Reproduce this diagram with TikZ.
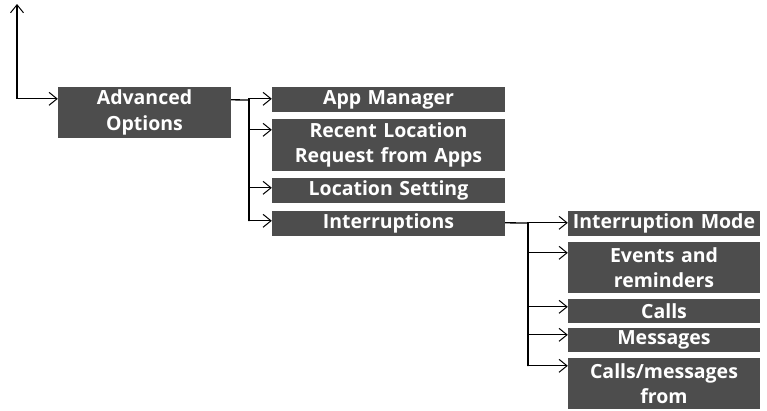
\documentclass[tikz,border=0pt]{standalone}
\usepackage{fontspec}
\setmainfont{Open Sans}
\usetikzlibrary{arrows.meta,calc}
\begin{document}
\begin{tikzpicture}[x=1pt,y=-1pt,
  menubox/.style={fill=boxgray,text=white,inner sep=0pt,align=center,
    font=\bfseries\fontsize{19.5}{25.5}\selectfont},
  conn/.style={line width=1.3pt,-{Straight Barb[length=8pt,width=13pt,line width=1pt]}},
  plain/.style={line width=1.3pt}]
\definecolor{boxgray}{HTML}{4D4D4D}
\useasboundingbox (0,0) rectangle (767,410);
% boxes
\node[menubox,minimum width=173pt,minimum height=51pt,text width=173pt] (adv) at (144.5,112.5) {Advanced\\Options};
\node[menubox,minimum width=233pt,minimum height=25pt,text width=233pt] (am) at (388.5,99.5) {App Manager};
\node[menubox,minimum width=233pt,minimum height=52pt,text width=233pt] (rl) at (388.5,145) {Recent Location\\Request from Apps};
\node[menubox,minimum width=233pt,minimum height=25pt,text width=233pt] (ls) at (388.5,190.5) {Location Setting};
\node[menubox,minimum width=233pt,minimum height=25pt,text width=233pt] (intr) at (388.5,223.5) {Interruptions};
\node[menubox,minimum width=192pt,minimum height=25pt,text width=192pt] (im) at (664,223.5) {Interruption Mode};
\node[menubox,minimum width=192pt,minimum height=51pt,text width=192pt] (ev) at (664,267.5) {Events and\\reminders};
\node[menubox,minimum width=192pt,minimum height=24pt,text width=192pt] (ca) at (664,311) {Calls};
\node[menubox,minimum width=192pt,minimum height=24pt,text width=192pt] (me) at (664,340) {Messages};
\node[menubox,minimum width=192pt,minimum height=51pt,text width=192pt] (cm) at (664,383.5) {Calls/messages\\from};
% connector points
\coordinate (top) at (17,4);
\coordinate (advin) at ($(adv.north west)+(0,12)$);
\coordinate (advout) at ($(adv.north east)+(0,13)$);
\coordinate (t1) at (249,100);
\coordinate (t1b) at (249,221);
\coordinate (introut) at ($(intr.north east)+(0,12)$);
\coordinate (t2) at (528,223);
\coordinate (t2b) at (528,366);
% connectors
\draw[plain] (advout) -- (t1) -- (t1b);
\draw[plain] (introut) -- (t2) -- (t2b);
\draw[line width=1.3pt,{Straight Barb[length=8pt,width=13pt,line width=1pt]}-{Straight Barb[length=8pt,width=13pt,line width=1pt]}] (top) |- (advin);
\draw[conn] (t1) |- ($(am.north west)+(0,12)$);
\draw[conn] (t1) |- ($(rl.north west)+(0,11)$);
\draw[conn] (t1) |- ($(ls.north west)+(0,10)$);
\draw[conn] (t1) |- ($(intr.north west)+(0,10)$);
\draw[conn] (t2) |- ($(im.north west)+(0,12)$);
\draw[conn] (t2) |- ($(ev.north west)+(0,11)$);
\draw[conn] (t2) |- ($(ca.north west)+(0,8)$);
\draw[conn] (t2) |- ($(me.north west)+(0,7)$);
\draw[conn] (t2) |- ($(cm.north west)+(0,8)$);
\end{tikzpicture}
\end{document}
